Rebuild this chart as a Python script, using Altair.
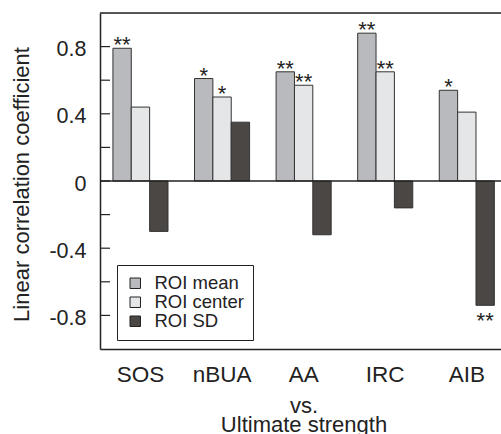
import altair as alt
import pandas as pd

categories = ["SOS", "nBUA", "AA", "IRC", "AIB"]
series = ["ROI mean", "ROI center", "ROI SD"]
roi_mean = [0.79, 0.61, 0.65, 0.88, 0.54]
roi_center = [0.44, 0.50, 0.57, 0.65, 0.41]
roi_sd = [-0.30, 0.35, -0.32, -0.16, -0.74]
stars_mean = ["**", "*", "**", "**", "*"]
stars_center = ["", "*", "**", "**", ""]
stars_sd = ["", "", "", "", "**"]
tick_values = [-0.8, -0.6, -0.4, -0.2, 0.0, 0.2, 0.4, 0.6, 0.8]
label_values = [-0.8, -0.4, 0.0, 0.4, 0.8]
colors = ["#b9babd", "#e5e6e8", "#4b4745"]

rows = []
for s, vals, stars in zip(series, [roi_mean, roi_center, roi_sd],
                          [stars_mean, stars_center, stars_sd]):
    for c, v, st in zip(categories, vals, stars):
        rows.append({"cat": c, "series": s, "value": v, "star": st})
df = pd.DataFrame(rows)

FONT = "Liberation Sans"
INK = "#222222"

x_enc = alt.X("cat:N", sort=categories,
              scale=alt.Scale(paddingInner=0.325, paddingOuter=0.12, align=0.66),
              axis=alt.Axis(ticks=False, labelPadding=14, labelFontSize=22.5, labelAngle=0,
                            labelColor=INK, domainColor=INK, domainWidth=1.5,
                            title=["vs.", "Ultimate strength"], titleX=203.5, titleY=63,
                            titleBaseline="alphabetic", titleLineHeight=19,
                            titleFontSize=22, titleFontWeight="normal", titleAlign="center",
                            titleColor=INK))
xoff = alt.XOffset("series:N", sort=series, scale=alt.Scale(paddingInner=0, paddingOuter=0))
y_scale = alt.Scale(domain=[-1, 1], nice=False)

bars = alt.Chart(df).mark_bar(stroke="#333333", strokeWidth=1).encode(
    x=x_enc,
    xOffset=xoff,
    y=alt.Y("value:Q", scale=y_scale,
            axis=alt.Axis(values=label_values, ticks=False, grid=False, labelPadding=14,
                          labelFontSize=21.5, labelOffset=3, labelColor=INK,
                          domainColor=INK, domainWidth=1.5,
                          labelExpr="datum.value == 0 ? '0' : (datum.value < 0 ? '-' : '') + format(abs(datum.value), '.1f')",
                          title="Linear correlation coefficient", titleX=-72, titleY=171,
                          titleBaseline="alphabetic", titleAlign="center", titleFontSize=22,
                          titleFontWeight="normal", titleColor=INK)),
    y2=alt.datum(0),
    color=alt.Color("series:N", sort=series,
                    scale=alt.Scale(domain=series, range=colors),
                    legend=alt.Legend(title=None, orient="none", legendX=17, legendY=252,
                                      padding=9, strokeColor=INK, fillColor="white",
                                      labelFontSize=18.5, labelColor=INK, symbolType="square",
                                      symbolSize=110, symbolStrokeColor=INK,
                                      symbolStrokeWidth=1, rowPadding=0, labelOffset=10)),
)

stars_up = alt.Chart(df).transform_filter("datum.value >= 0 && datum.star != ''").mark_text(
    fontSize=22, baseline="alphabetic", dy=4, color=INK, font=FONT
).encode(x=alt.X("cat:N", sort=categories), xOffset=alt.XOffset("series:N", sort=series),
         y=alt.Y("value:Q", scale=y_scale), text="star:N")

stars_down = alt.Chart(df).transform_filter("datum.value < 0 && datum.star != ''").mark_text(
    fontSize=22, baseline="alphabetic", dy=23, color=INK, font=FONT
).encode(x=alt.X("cat:N", sort=categories), xOffset=alt.XOffset("series:N", sort=series),
         y=alt.Y("value:Q", scale=y_scale), text="star:N")

ticks = alt.Chart(pd.DataFrame({"t": tick_values})).mark_rule(color=INK, strokeWidth=1.2).encode(
    y=alt.Y("t:Q", scale=y_scale), x=alt.value(0), x2=alt.value(10))

zero = alt.Chart(pd.DataFrame({"z": [0.0]})).mark_rule(color=INK, strokeWidth=1.5).encode(
    y=alt.Y("z:Q", scale=y_scale))
top = alt.Chart(pd.DataFrame({"z": [1.0]})).mark_rule(color=INK, strokeWidth=1.5).encode(
    y=alt.Y("z:Q", scale=y_scale))

chart = alt.layer(bars, ticks, zero, top, stars_up, stars_down).properties(
    width=401, height=336,
    padding={"left": 100, "top": 13, "right": 0, "bottom": 85},
    autosize=alt.AutoSizeParams(type="none"),
).configure_view(stroke=None).configure(font=FONT)

chart.save("out.html", embed_options={"renderer": "svg", "actions": False})
